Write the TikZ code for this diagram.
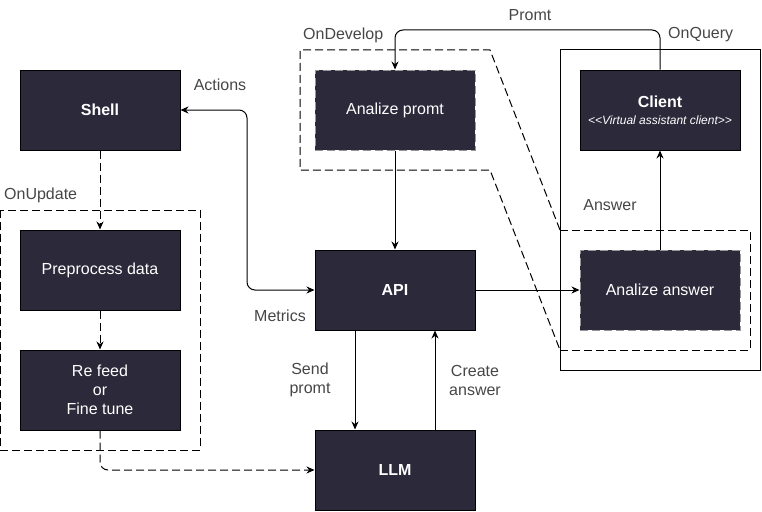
\documentclass[tikz,border=0pt]{standalone}
\usepackage{fontspec}
\setmainfont{Liberation Sans}
\usetikzlibrary{arrows.meta}
\definecolor{boxfill}{RGB}{43,41,58}
\definecolor{lbl}{RGB}{70,70,70}
\definecolor{dashgray}{RGB}{150,150,150}
\tikzset{
  box/.style={draw=black, fill=boxfill, text=white, minimum width=160pt, minimum height=80pt, inner sep=0pt, line width=1pt, font=\fontsize{16}{19}\selectfont, align=center},
  dbox/.style={box, draw=dashgray, dash pattern=on 8pt off 4pt},
  lab/.style={text=lbl, font=\fontsize{16}{19}\selectfont, inner sep=0pt, align=center},
  conn/.style={line width=1pt, -{Stealth[length=8pt,width=7pt]}},
  grp/.style={line width=1pt, dash pattern=on 8pt off 4pt}
}
\begin{document}
\begin{tikzpicture}[x=1pt,y=-1pt]
\useasboundingbox (0,0) rectangle (762,511);
% groups
\draw[line width=1pt] (560,50) rectangle (760,370);
\draw[grp] (560,230) rectangle (750,350);
\draw[grp] (560,230) -- (490,50) -- (300,50) -- (300,170) -- (490,170) -- (560,350);
\draw[grp] (0,210) rectangle (200,450);
% boxes
\node[box] (shell) at (100,110) {\textbf{Shell}};
\node[box] (pre) at (100,270) {Preprocess data};
\node[box] (refeed) at (100,390) {Re feed\\or\\Fine tune};
\node[dbox] (apr) at (395,110) {Analize promt};
\node[box] (api) at (395,290) {\textbf{API}};
\node[box] (llm) at (395,470) {\textbf{LLM}};
\node[box] (client) at (660,110) {\textbf{Client}\\[-2pt]{\fontsize{12}{14}\selectfont\itshape {<}{<}Virtual assistant client{>}{>}}};
\node[dbox] (aan) at (660,290) {Analize answer};
% labels
\node[lab] (lpromt) at (530,15) {Promt};
\node[lab, anchor=west] (londev) at (303,35) {OnDevelop};
\node[lab, anchor=west] (lonq) at (668,35) {OnQuery};
\node[lab, anchor=west] (lonup) at (4,195) {OnUpdate};
\node[lab] (lact) at (220,85) {Actions};
\node[lab] (lmet) at (280,316) {Metrics};
\node[lab] (lans) at (610,205) {Answer};
\node[lab] (lsend) at (310,380) {Send\\promt};
\node[lab] (lcreate) at (475,380) {Create\\answer};
% connectors
\coordinate (c1) at (660,30);
\coordinate (c2) at (395,30);
\draw[conn, rounded corners=8pt] (client.north) -- (c1) -- (c2) -- (apr.north);
\draw[conn] (apr.south) -- (api.north);
\draw[conn] (api.east) -- (aan.west);
\draw[conn] (aan.north) -- (client.south);
\coordinate (s1) at (247,110);
\coordinate (s2) at (247,290);
\draw[line width=1pt, {Stealth[length=8pt,width=7pt]}-{Stealth[length=8pt,width=7pt]}, rounded corners=8pt] (shell.east) -- (s1) -- (s2) -- (api.west);
\draw[conn, dash pattern=on 8pt off 4pt] (shell.south) -- (pre.north);
\draw[conn, dash pattern=on 8pt off 4pt] (pre.south) -- (refeed.north);
\coordinate (r1) at (100,470);
\draw[conn, dash pattern=on 8pt off 4pt, rounded corners=8pt] (refeed.south) -- (r1) -- (llm.west);
\draw[conn] ([xshift=-40pt]api.south) -- ([xshift=-40pt]llm.north);
\draw[conn] ([xshift=40pt]llm.north) -- ([xshift=40pt]api.south);
\end{tikzpicture}
\end{document}
